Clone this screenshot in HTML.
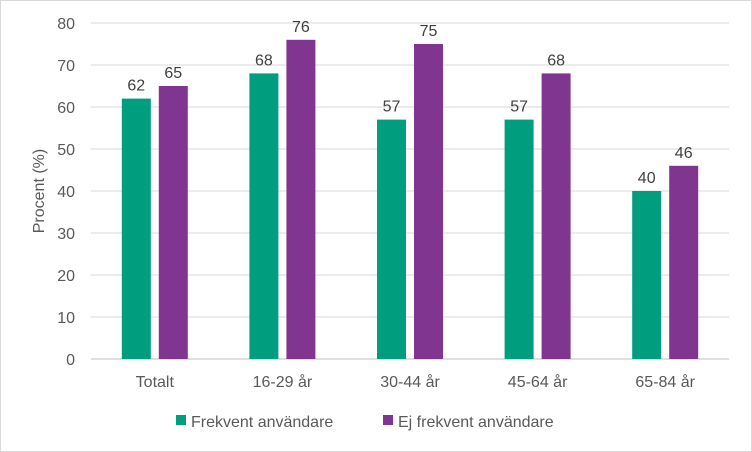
<!DOCTYPE html>
<html><head><meta charset="utf-8"><style>
body{margin:0;background:#fff;}
svg{display:block;font-family:"Liberation Sans",sans-serif;}
</style></head><body>
<svg id="chart" width="752" height="452">
<rect x="0.5" y="0.5" width="751" height="451" fill="#fff" stroke="#d9d9d9"/>
<g id="grid"></g><g id="bars"></g><g id="labels"></g>
<text x="0" y="0" transform="translate(44,191) rotate(-90)" text-anchor="middle" font-size="16" fill="#595959">Procent (%)</text>
<g>
<rect x="176" y="415" width="10" height="10" fill="#009E7E"/>
<text x="191" y="427" font-size="16" fill="#595959">Frekvent användare</text>
<rect x="383" y="415" width="10" height="10" fill="#803690"/>
<text x="398" y="427" font-size="16" fill="#595959">Ej frekvent användare</text>
</g>
</svg>
<script>
const categories=["Totalt","16-29 år","30-44 år","45-64 år","65-84 år"];
const frekvent=[62,68,57,57,40];
const ejFrekvent=[65,76,75,68,46];
const yTicks=[0,10,20,30,40,50,60,70,80];
const NS="http://www.w3.org/2000/svg";
const x0=91,x1=729,y0=359,y80=23;
const yScale=v=>y0-(v/80)*(y0-y80);
const bw=(x1-x0)/categories.length;
const xCenter=i=>x0+bw*(i+0.5);
function mk(tag,attrs,parent){const e=document.createElementNS(NS,tag);for(const k in attrs)e.setAttribute(k,attrs[k]);document.getElementById(parent).appendChild(e);return e;}
yTicks.forEach(t=>{
 const l=mk("line",{x1:x0,x2:x1,y1:yScale(t),y2:yScale(t),stroke:t===0?"#bfbfbf":"#d9d9d9","stroke-width":1},"grid");
 
 
 const tx=mk("text",{x:75,y:yScale(t)+6,"text-anchor":"end","font-size":16,fill:"#595959"},"labels");
 tx.textContent=t;
 
 
});
const barW=29,gap=8;
categories.forEach((c,i)=>{
 const cx=xCenter(i);
 const series=[[frekvent[i],"#009E7E",cx-gap/2-barW],[ejFrekvent[i],"#803690",cx+gap/2]];
 series.forEach(([v,col,bx],j)=>{
  const r=mk("rect",{x:bx,y:yScale(v),width:barW,height:y0-yScale(v),fill:col},"bars");
  
  
  const t=mk("text",{x:bx+barW/2,y:yScale(v)-8,"text-anchor":"middle","font-size":16,fill:"#404040"},"labels");
  t.textContent=v;
  
  
 });
 const ct=mk("text",{x:cx,y:387,"text-anchor":"middle","font-size":16,fill:"#595959"},"labels");
 ct.textContent=c;
 
 
});
</script>
</body></html>
